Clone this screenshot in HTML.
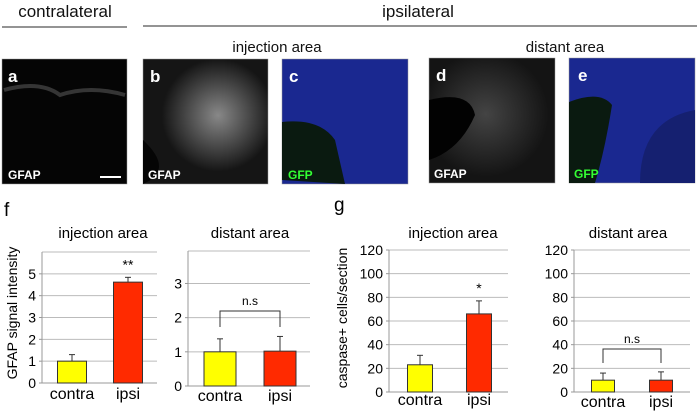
<!DOCTYPE html>
<html><head><meta charset="utf-8"><style>
body{margin:0;background:#fff}
svg{display:block;font-family:"Liberation Sans",sans-serif}
</style></head><body>
<svg width="700" height="415" viewBox="0 0 700 415">
<defs>
<radialGradient id="gb" cx="0.6" cy="0.45" r="0.45"><stop offset="0" stop-color="#888"/><stop offset="1" stop-color="#151515"/></radialGradient>
<radialGradient id="gd" cx="0.45" cy="0.45" r="0.5"><stop offset="0" stop-color="#444"/><stop offset="1" stop-color="#141414"/></radialGradient>
</defs>
<g font-size="17" fill="#111">
<text x="65" y="17" text-anchor="middle">contralateral</text>
<line x1="2" y1="27" x2="127" y2="27" stroke="#555" stroke-width="1.3"/>
<text x="418" y="17" text-anchor="middle">ipsilateral</text>
<line x1="143" y1="26" x2="697" y2="26" stroke="#555" stroke-width="1.3"/>
<text x="277" y="52" text-anchor="middle" font-size="15">injection area</text>
<text x="565" y="52" text-anchor="middle" font-size="15">distant area</text>
</g>
<g>
<rect x="2" y="59" width="125" height="125" fill="#050505" stroke="#999" stroke-width="0.5"/>
<path d="M4 90 Q40 80 60 95 Q90 85 125 95" stroke="#555" stroke-width="4" fill="none" opacity="0.6"/>
<text x="8" y="82" fill="#fff" font-size="17" font-weight="bold">a</text>
<text x="8" y="179" fill="#fff" font-size="12" font-weight="bold">GFAP</text>
<line x1="100" y1="177" x2="121" y2="177" stroke="#fff" stroke-width="2"/>
</g>
<g>
<rect x="143" y="59" width="125" height="125" fill="url(#gb)" stroke="#999" stroke-width="0.5"/>
<path d="M143 140 Q175 170 143 184 Z" fill="#050505"/>
<text x="150" y="82" fill="#fff" font-size="17" font-weight="bold">b</text>
<text x="148" y="179" fill="#fff" font-size="12" font-weight="bold">GFAP</text>
</g>
<g>
<rect x="282" y="59" width="126" height="125" fill="#1a2890" stroke="#999" stroke-width="0.5"/>
<path d="M282 180 L282 122 Q320 118 335 140 L345 184 Z" fill="#0a1a10"/>
<text x="289" y="82" fill="#fff" font-size="17" font-weight="bold">c</text>
<text x="288" y="179" fill="#3f3" font-size="12" font-weight="bold">GFP</text>
</g>
<g>
<rect x="429" y="58" width="126" height="125" fill="url(#gd)" stroke="#999" stroke-width="0.5"/>
<path d="M429 100 Q470 90 475 115 Q460 150 429 160 Z" fill="#020202"/>
<text x="436" y="81" fill="#fff" font-size="17" font-weight="bold">d</text>
<text x="434" y="178" fill="#fff" font-size="12" font-weight="bold">GFAP</text>
</g>
<g>
<rect x="569" y="58" width="126" height="125" fill="#1a2890" stroke="#999" stroke-width="0.5"/>
<path d="M569 160 L569 102 Q600 90 612 105 Q605 150 595 183 L569 183 Z" fill="#0a1a10"/>
<path d="M640 183 Q640 120 695 110 L695 183 Z" fill="#152070"/>
<text x="578" y="81" fill="#fff" font-size="17" font-weight="bold">e</text>
<text x="574" y="178" fill="#3f3" font-size="12" font-weight="bold">GFP</text>
</g>
<text x="4" y="216" font-size="19">f</text>
<text x="334" y="211" font-size="19">g</text>
<text transform="translate(17,313) rotate(-90)" text-anchor="middle" font-size="14">GFAP signal intensity</text>
<text transform="translate(347,318) rotate(-90)" text-anchor="middle" font-size="14">caspase+ cells/section</text>
<g id="charts"></g>
</svg>
<script>
const categories = ["contra","ipsi"];
const fInjValues = [1, 4.62];
const fInjErrors = [0.3, 0.22];
const fInjTicks = [0,1,2,3,4,5];
const fDistValues = [1, 1.02];
const fDistErrors = [0.38, 0.43];
const fDistTicks = [0,1,2,3];
const gInjValues = [23, 66];
const gInjErrors = [8, 11];
const gTicks = [0,20,40,60,80,100,120];
const gDistValues = [10, 10];
const gDistErrors = [6, 7];
const titles = ["injection area","distant area","injection area","distant area"];
const marks = [null,"n.s",null,"n.s"];
const sig = ["**",null,"*",null];

const NS="http://www.w3.org/2000/svg";
const root=document.getElementById('charts');
function mk(tag,attrs,parent){const e=document.createElementNS(NS,tag);for(const k in attrs)e.setAttribute(k,attrs[k]);(parent||root).appendChild(e);return e;}
const charts=[
 {x0:42,x1:157,y0:383,max:6,yTop:252,ticks:fInjTicks,vals:fInjValues,errs:fInjErrors,barW:29,c:[72,128],title:titles[0],tx:103,ly:399},
 {x0:188,x1:310,y0:386,max:3.95,yTop:251,ticks:fDistTicks,vals:fDistValues,errs:fDistErrors,barW:32,c:[220,280],title:titles[1],tx:250,ly:401,br:[311,327]},
 {x0:389,x1:508,y0:392,max:120,yTop:250,ticks:gTicks,vals:gInjValues,errs:gInjErrors,barW:25,c:[420,479],title:titles[2],tx:453,ly:405},
 {x0:574,x1:690,y0:392,max:120,yTop:250,ticks:gTicks,vals:gDistValues,errs:gDistErrors,barW:23,c:[603,661],title:titles[3],tx:628,ly:407,br:[349,363]}
];
const colors=["#ffff00","#ff2a00"];
charts.forEach((ch,i)=>{
 const g=mk('g',{});
 
 
 const y=v=>ch.y0-(v/ch.max)*(ch.y0-ch.yTop);
 ch.ticks.forEach(t=>{
  if(t>0){const gl=mk('line',{x1:ch.x0,x2:ch.x1,y1:y(t),y2:y(t),stroke:'#bbb','stroke-width':1},g);
   
   }
  const tl=mk('text',{x:ch.x0-6,y:y(t)+5,'text-anchor':'end','font-size':14},g);
  tl.textContent=t;
  
  
  mk('line',{x1:ch.x0-3,x2:ch.x0,y1:y(t),y2:y(t),stroke:'#999'},g);
 });
 mk('line',{x1:ch.x0,x2:ch.x1,y1:ch.yTop,y2:ch.yTop,stroke:'#bbb'},g);
 mk('line',{x1:ch.x0,x2:ch.x0,y1:ch.yTop,y2:ch.y0,stroke:'#999'},g);
 mk('line',{x1:ch.x0,x2:ch.x1,y1:ch.y0,y2:ch.y0,stroke:'#999'},g);
 ch.vals.forEach((v,j)=>{
  const cx=ch.c[j];
  const top=y(v+ch.errs[j]);
  mk('line',{x1:cx,x2:cx,y1:top,y2:y(v),stroke:'#333','stroke-width':1},g);
  mk('line',{x1:cx-3,x2:cx+3,y1:top,y2:top,stroke:'#333','stroke-width':1},g);
  const b=mk('rect',{x:cx-ch.barW/2,y:y(v),width:ch.barW,height:ch.y0-y(v),fill:colors[j],stroke:'#333','stroke-width':1},g);
  
  
  const l=mk('text',{x:cx,y:ch.ly,'text-anchor':'middle','font-size':16},g);
  l.textContent=categories[j];
  
  
 });
 const t=mk('text',{x:ch.tx,y:238,'text-anchor':'middle','font-size':15},g);
 t.textContent=ch.title;
 
 
 if(sig[i]){const s=mk('text',{x:ch.c[1],y:y(ch.vals[1]+ch.errs[1])-8,'text-anchor':'middle','font-size':14},g);
  s.textContent=sig[i];
  
  }
 if(ch.br){
  const [by,bb]=ch.br;
  const p=mk('path',{d:`M${ch.c[0]} ${bb}V${by}H${ch.c[1]}V${bb}`,fill:'none',stroke:'#333'},g);
  
  
  const s=mk('text',{x:(ch.c[0]+ch.c[1])/2,y:by-6,'text-anchor':'middle','font-size':12},g);
  s.textContent=marks[i];
  
  
 }
});
</script>
</body></html>
